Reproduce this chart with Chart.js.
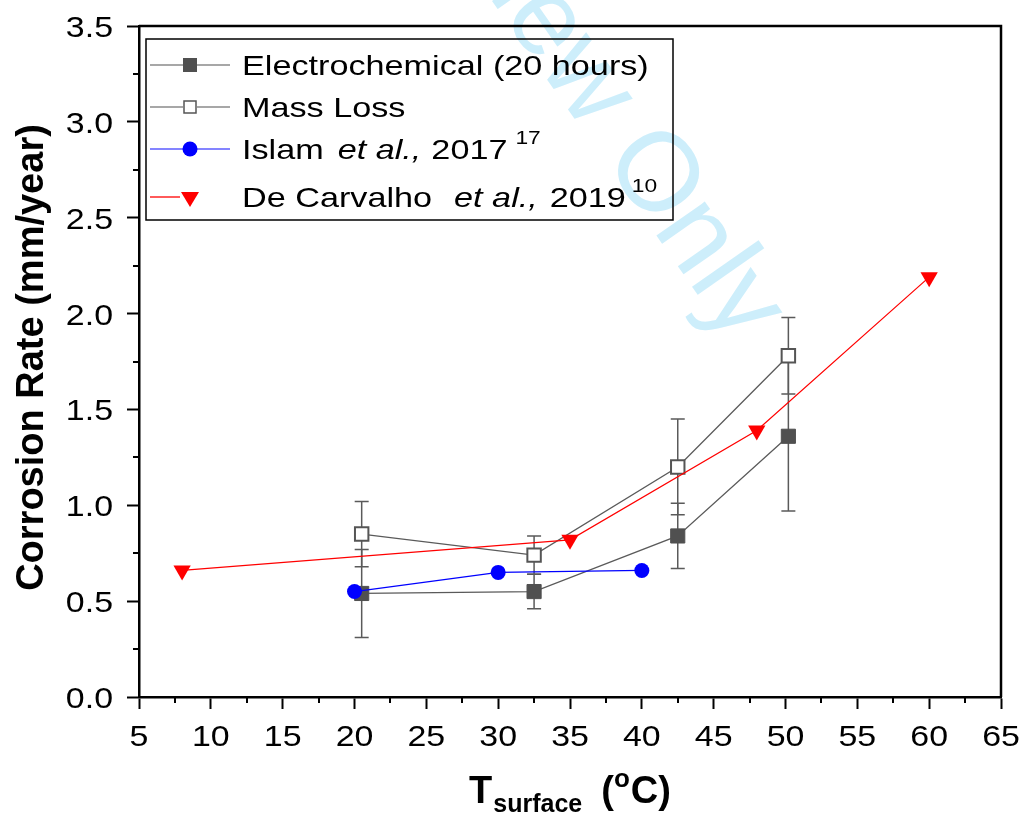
<!DOCTYPE html>
<html>
<head>
<meta charset="utf-8">
<script src="https://cdn.jsdelivr.net/npm/chart.js@4.4.0/dist/chart.umd.min.js"></script>
<style>
  html, body { margin: 0; padding: 0; background: #fff; }
  #wrap { width: 1022px; height: 819px; position: relative; }
</style>
</head>
<body>
<div id="wrap"><canvas id="myChart"></canvas></div>
<script>
// corrosion rate vs surface temperature
const echemTemp = [20.5, 32.5, 42.5, 50.2];
const echemRate = [0.54, 0.55, 0.84, 1.36];
const echemErr = [0.23, 0.09, 0.17, 0.39];

const massTemp = [20.5, 32.5, 42.5, 50.2];
const massRate = [0.85, 0.74, 1.20, 1.78];
const massErr = [0.17, 0.10, 0.25, 0.20];

const islamTemp = [20, 30, 40];
const islamRate = [0.55, 0.65, 0.66];

const carvalhoTemp = [8, 35, 48, 60];
const carvalhoRate = [0.66, 0.82, 1.39, 2.19];

const xTickValues = [5, 10, 15, 20, 25, 30, 35, 40, 45, 50, 55, 60, 65];
const yTickValues = [0, 0.5, 1.0, 1.5, 2.0, 2.5, 3.0, 3.5];

const FONT = '"Liberation Sans", Arial, sans-serif';

function pts(xs, ys) {
    return xs.map((x, i) => ({ x: x, y: ys[i] }));
}

// regular text in this figure runs a bit wide, so stretch it horizontally
function wideText(ctx, txt, x, y, align, sx) {
    const w = ctx.measureText(txt).width * sx;
    let x0 = x;
    if (align === 'right') x0 = x - w;
    else if (align === 'center') x0 = x - w / 2;
    ctx.save();
    ctx.translate(x0, y);
    ctx.scale(sx, 1);
    ctx.textAlign = 'left';
    ctx.fillText(txt, 0, 0);
    ctx.restore();
    return w;
}

const backdrop = {
    id: 'backdrop',
    beforeDraw(chart) {
        const ctx = chart.ctx;
        ctx.save();
        ctx.fillStyle = '#fff';
        ctx.fillRect(0, 0, chart.width, chart.height);
        // review watermark
        ctx.font = '112px ' + FONT;
        ctx.fillStyle = '#cdeefb';
        ctx.translate(602, 158);
        ctx.rotate(55 * Math.PI / 180);
        const lead = ctx.measureText('For Peer Review ').width;
        ctx.textBaseline = 'alphabetic';
        ctx.fillText('For Peer Review Only', -lead, 0);
        ctx.restore();
    }
};

const errorBars = {
    id: 'errorBars',
    beforeDatasetsDraw(chart) {
        const ctx = chart.ctx;
        const ys = chart.scales.y;
        ctx.save();
        ctx.strokeStyle = '#5a5a5a';
        ctx.lineWidth = 1.5;
        chart.data.datasets.forEach((ds, i) => {
            if (!ds.errors) return;
            const meta = chart.getDatasetMeta(i);
            meta.data.forEach((pt, j) => {
                const v = ds.data[j].y, e = ds.errors[j];
                const top = ys.getPixelForValue(v + e);
                const bot = ys.getPixelForValue(v - e);
                ctx.beginPath();
                ctx.moveTo(pt.x, top); ctx.lineTo(pt.x, bot);
                ctx.moveTo(pt.x - 7, top); ctx.lineTo(pt.x + 7, top);
                ctx.moveTo(pt.x - 7, bot); ctx.lineTo(pt.x + 7, bot);
                ctx.stroke();
            });
        });
        ctx.restore();
    }
};

const frame = {
    id: 'frame',
    afterDraw(chart) {
        const ctx = chart.ctx;
        const a = chart.chartArea;
        const xs = chart.scales.x, ys = chart.scales.y;
        ctx.save();
        ctx.strokeStyle = '#000';
        ctx.lineWidth = 2.5;
        ctx.beginPath();
        ctx.moveTo(a.left, a.top); ctx.lineTo(a.right, a.top); ctx.lineTo(a.right, a.bottom);
        ctx.stroke();

        // minor ticks
        ctx.lineWidth = 2;
        ctx.beginPath();
        for (let v = 7.5; v < 65; v += 5) {
            const px = Math.round(xs.getPixelForValue(v));
            ctx.moveTo(px, a.bottom); ctx.lineTo(px, a.bottom + 6);
        }
        for (let v = 0.25; v < 3.5; v += 0.5) {
            const py = Math.round(ys.getPixelForValue(v));
            ctx.moveTo(a.left, py); ctx.lineTo(a.left - 6, py);
        }
        ctx.stroke();

        // tick labels
        ctx.fillStyle = '#000';
        ctx.font = '30px ' + FONT;
        ctx.textBaseline = 'alphabetic';
        xTickValues.forEach(v => {
            wideText(ctx, String(v), xs.getPixelForValue(v), 746, 'center', 1.13);
        });
        yTickValues.forEach(v => {
            wideText(ctx, v.toFixed(1), 113, ys.getPixelForValue(v) + 11, 'right', 1.13);
        });

        // y title
        ctx.save();
        ctx.translate(43, (a.top + a.bottom) / 2 - 4);
        ctx.rotate(-Math.PI / 2);
        ctx.font = 'bold 38px ' + FONT;
        ctx.textAlign = 'center';
        ctx.fillText('Corrosion Rate (mm/year)', 0, 0);
        ctx.restore();

        // x title: T_surface (°C)
        const parts = [
            { t: 'T', f: 'bold 38px ', dy: 0, gap: 1 },
            { t: 'surface', f: 'bold 25px ', dy: 9, gap: 19 },
            { t: '(', f: 'bold 38px ', dy: 0, gap: 0 },
            { t: 'o', f: 'bold 26px ', dy: -16, gap: 1 },
            { t: 'C)', f: 'bold 38px ', dy: 0, gap: 0 }
        ];
        let total = 0;
        parts.forEach(p => { ctx.font = p.f + FONT; p.w = ctx.measureText(p.t).width; total += p.w + p.gap; });
        let cx = (a.left + a.right) / 2 - total / 2;
        ctx.textAlign = 'left';
        parts.forEach(p => {
            ctx.font = p.f + FONT;
            ctx.fillText(p.t, cx, 803 + p.dy);
            cx += p.w + p.gap;
        });

        drawLegend(ctx);
        ctx.restore();
    }
};

function drawLegend(ctx) {
    ctx.save();
    ctx.strokeStyle = '#000';
    ctx.lineWidth = 1.5;
    ctx.strokeRect(146, 39, 527, 181);

    const rows = [
        { y: 65, line: '#8a8a8a', x2: 230, mark: 'sqFill', text: [['Electrochemical (20 hours)', 'n']] },
        { y: 107, line: '#8a8a8a', x2: 230, mark: 'sqOpen', text: [['Mass Loss', 'n']] },
        { y: 149, line: '#5b5bff', x2: 230, mark: 'dot', text: [['Islam', 'n', 14], ['et al.,', 'i', 10], ['2017', 'n', 8], ['17', 's']] },
        { y: 197, line: '#ff0000', x2: 180, mark: 'tri', text: [['De Carvalho', 'n', 22], ['et al.,', 'i', 12], ['2019', 'n', 6], ['10', 's']] }
    ];
    const SX = 1.2;
    rows.forEach(r => {
        ctx.strokeStyle = r.line;
        ctx.lineWidth = 1.3;
        ctx.beginPath();
        ctx.moveTo(150, r.y); ctx.lineTo(r.x2, r.y);
        ctx.stroke();
        const mx = 190;
        if (r.mark === 'sqFill') {
            ctx.fillStyle = '#505050';
            ctx.fillRect(mx - 7, r.y - 7, 14, 14);
        } else if (r.mark === 'sqOpen') {
            ctx.fillStyle = '#fff';
            ctx.fillRect(mx - 7, r.y - 7, 14, 14);
            ctx.strokeStyle = '#555';
            ctx.lineWidth = 1.5;
            ctx.strokeRect(mx - 6, r.y - 6, 12, 12);
        } else if (r.mark === 'dot') {
            ctx.fillStyle = '#0000ff';
            ctx.beginPath(); ctx.arc(mx, r.y, 7.5, 0, Math.PI * 2); ctx.fill();
        } else {
            ctx.fillStyle = '#ff0000';
            ctx.beginPath();
            ctx.moveTo(mx - 9, r.y - 5); ctx.lineTo(mx + 9, r.y - 5); ctx.lineTo(mx, r.y + 10);
            ctx.closePath(); ctx.fill();
        }
        ctx.fillStyle = '#000';
        let x = 242;
        const base = r.y + 10;
        r.text.forEach(seg => {
            const [t, kind, gap] = seg;
            if (kind === 'n') { ctx.font = '28.5px ' + FONT; x += wideText(ctx, t, x, base, 'left', SX); }
            else if (kind === 'i') { ctx.font = 'italic 28.5px ' + FONT; x += wideText(ctx, t, x, base, 'left', SX); }
            else { ctx.font = '19px ' + FONT; x += wideText(ctx, t, x, base - 15, 'left', SX); }
            x += gap || 0;
        });
    });
    ctx.restore();
}

const ctx = document.getElementById('myChart');
new Chart(ctx, {
    type: 'line',
    data: {
        datasets: [
            {
                label: 'Electrochemical (20 hours)',
                data: pts(echemTemp, echemRate),
                errors: echemErr,
                borderColor: '#5a5a5a',
                borderWidth: 1.3,
                pointStyle: 'rect',
                pointRadius: 10,
                pointBackgroundColor: '#505050',
                pointBorderColor: '#505050',
                pointBorderWidth: 1,
                order: 3
            },
            {
                label: 'Mass Loss',
                data: pts(massTemp, massRate),
                errors: massErr,
                borderColor: '#5a5a5a',
                borderWidth: 1.3,
                pointStyle: 'rect',
                pointRadius: 9.5,
                pointBackgroundColor: '#fff',
                pointBorderColor: '#555',
                pointBorderWidth: 2,
                order: 2
            },
            {
                label: 'Islam et al., 2017',
                data: pts(islamTemp, islamRate),
                borderColor: '#0000ff',
                borderWidth: 1.2,
                pointStyle: 'circle',
                pointRadius: 7.5,
                pointBackgroundColor: '#0000ff',
                pointBorderWidth: 0,
                order: 1
            },
            {
                label: 'De Carvalho et al., 2019',
                data: pts(carvalhoTemp, carvalhoRate),
                borderColor: '#ff0000',
                borderWidth: 1.2,
                pointStyle: 'triangle',
                rotation: 180,
                pointRadius: 10,
                pointBackgroundColor: '#ff0000',
                pointBorderWidth: 0,
                order: 0
            }
        ]
    },
    options: {
        responsive: true,
        maintainAspectRatio: false,
        animation: false,
        layout: { padding: { top: 26, right: 21, left: 0, bottom: 0 } },
        elements: { line: { tension: 0 } },
        plugins: {
            legend: { display: false },
            tooltip: { enabled: false }
        },
        scales: {
            x: {
                type: 'linear',
                min: 5,
                max: 65,
                afterBuildTicks: s => { s.ticks = xTickValues.map(v => ({ value: v })); },
                afterFit: s => { s.height = 122; },
                ticks: { display: false },
                grid: { drawOnChartArea: false, tickLength: 12, tickWidth: 2, tickColor: '#000' },
                border: { color: '#000', width: 2.5 }
            },
            y: {
                min: 0,
                max: 3.5,
                afterBuildTicks: s => { s.ticks = yTickValues.map(v => ({ value: v })); },
                afterFit: s => { s.width = 139; },
                ticks: { display: false },
                grid: { drawOnChartArea: false, tickLength: 12, tickWidth: 2, tickColor: '#000' },
                border: { color: '#000', width: 2.5 }
            }
        }
    },
    plugins: [backdrop, errorBars, frame]
});
</script>
</body>
</html>
